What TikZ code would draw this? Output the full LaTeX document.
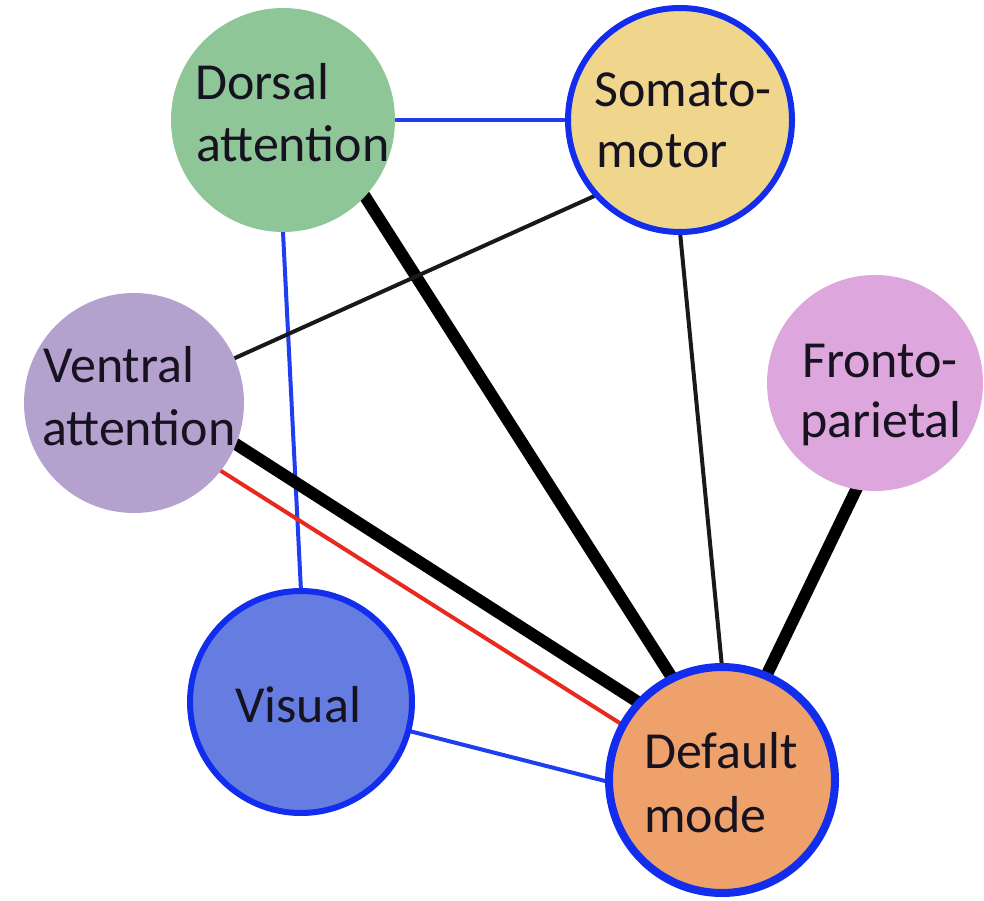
\documentclass[tikz,border=0pt]{standalone}
\usepackage{fontspec}
\setmainfont{Carlito}
\usetikzlibrary{backgrounds}
\definecolor{dorsalc}{RGB}{142,198,152}
\definecolor{somatoc}{RGB}{240,213,140}
\definecolor{ventralc}{RGB}{180,161,206}
\definecolor{frontoc}{RGB}{221,166,220}
\definecolor{visualc}{RGB}{101,125,225}
\definecolor{defaultc}{RGB}{238,161,107}
\definecolor{bordc}{RGB}{18,45,238}
\definecolor{linkblue}{RGB}{30,62,240}
\definecolor{linkred}{RGB}{232,42,30}
\definecolor{txtc}{RGB}{22,18,32}
\begin{document}
\begin{tikzpicture}[x=1pt,y=-1pt,
  net/.style={circle, inner sep=0pt, outer sep=0pt},
  ringed/.style={draw=bordc, line width=6pt},
  lbl/.style={anchor=base west, inner sep=0pt, text=txtc,
    font=\fontsize{52pt}{62pt}\selectfont},
  link/.style={shorten <=-5pt, shorten >=-5pt},
  bluelink/.style={link, draw=linkblue, line width=4pt},
  thinlink/.style={link, draw=black!90, line width=4pt},
  thicklink/.style={link, draw=black, line width=12pt},
  redlink/.style={link, draw=linkred, line width=4pt}]
\useasboundingbox (0,0) rectangle (984,901);

% networks
\node[net, fill=dorsalc, minimum size=224pt] (D) at (283,120) {};
\node[net, fill=somatoc, ringed, minimum size=224pt] (S) at (680,120) {};
\node[net, fill=ventralc, minimum size=220pt] (V) at (134,403) {};
\node[net, fill=frontoc, minimum size=216pt] (F) at (875,383) {};
\node[net, fill=visualc, ringed, minimum size=222pt] (Vis) at (301,702) {};
\node[net, fill=defaultc, ringed, line width=8pt, minimum size=226pt] (DM) at (722,780) {};

% labels
\node[lbl] (D1) at (195,100) {Dorsal};
\node[lbl] (D2) at (196,162) {attention};
\node[lbl] (S1) at (594,107) {Somato-};
\node[lbl] (S2) at (596,168) {motor};
\node[lbl] (V1) at (43,382) {Ventral};
\node[lbl] (V2) at (42,445) {attention};
\node[lbl] (F1) at (802,377) {Fronto-};
\node[lbl] (F2) at (800,437) {parietal};
\node[lbl] (Vis1) at (235,722) {Visual};
\node[lbl] (DM1) at (644,768) {Default};
\node[lbl] (DM2) at (644,832) {mode};

% connections
\begin{scope}[on background layer]
\draw[bluelink] (D.0) -- (S.180);
\draw[bluelink] (D.-90) -- (Vis.90);
\draw[thicklink] (D.-43.5) -- (DM.116);
\draw[thinlink] (S.222) -- (V.24);
\draw[thinlink] (S.-90) -- (DM.90);
\draw[thicklink] (V.-22.5) -- (DM.137);
\draw[redlink] (V.-38.6) -- (DM.151);
\draw[thicklink] (F.-100.6) -- (DM.67.4);
\draw[bluelink] (Vis.-15) -- (DM.181.5);
\end{scope}
\end{tikzpicture}
\end{document}
